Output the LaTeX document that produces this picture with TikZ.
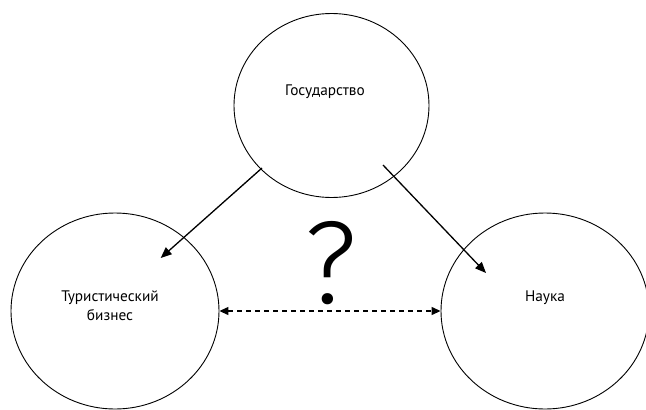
\documentclass[tikz,border=0pt]{standalone}
\usepackage{fontspec}
\setmainfont{PT Sans}
\newfontfamily\askfont{Fira Sans Light}
\usetikzlibrary{shapes.geometric,arrows.meta}
\begin{document}
\begin{tikzpicture}[x=1pt,y=-1pt]

    % let's define some key values
    \def\rxtop{97.5}
    \def\rytop{92}
    \def\rxlow{104}
    \def\rylow{98}
    \def\ylow{311}

    % Styles
    \tikzstyle{sphere}=[draw, ellipse, line width=0.9pt, inner sep=0pt]
    \tikzstyle{sphtext}=[font=\fontsize{15.3}{19}\selectfont, align=center, inner sep=0pt, anchor=base]
    \tikzstyle{link}=[-{Triangle[length=11pt,width=9pt]}, line width=1.3pt]
    \tikzstyle{mutual}=[{Triangle[length=9pt,width=8pt]}-{Triangle[length=9pt,width=8pt]}, line width=1.3pt, dash pattern=on 5pt off 4pt]

    \useasboundingbox (0,0) rectangle (646,410);

    % state
    \node[sphere, minimum width=2*\rxtop, minimum height=2*\rytop] (gov) at (331.5,105.5) {};
    \node[sphtext] (govtext) at (325,95.7) {Государство};

    % tourism business (base is the last line)
    \node[sphere, minimum width=2*\rxlow, minimum height=2*\rylow] (tour) at (115,\ylow) {};
    \node[sphtext] (tourtext) at (110,320.7) {Туристический\\бизнес};

    % science
    \node[sphere, minimum width=2*\rxlow, minimum height=2*\rylow] (sci) at (545,\ylow) {};
    \node[sphtext] (scitext) at (545,301.7) {Наука};

    % ends of the arrows
    \coordinate (govl) at (262,168);
    \coordinate (govr) at (383,165);
    \coordinate (tourin) at (160.7,258);
    \coordinate (sciin) at (486,273);

    % influence of the state
    \draw[link] (govl) -- (tourin);
    \draw[link] (govr) -- (sciin);

    % unknown link
    \draw[mutual] (tour.east) -- (sci.west);
    \node[font=\askfont\fontsize{118}{118}\selectfont, inner sep=0pt, anchor=base] (ask) at (331,303) {?};

\end{tikzpicture}
\end{document}
